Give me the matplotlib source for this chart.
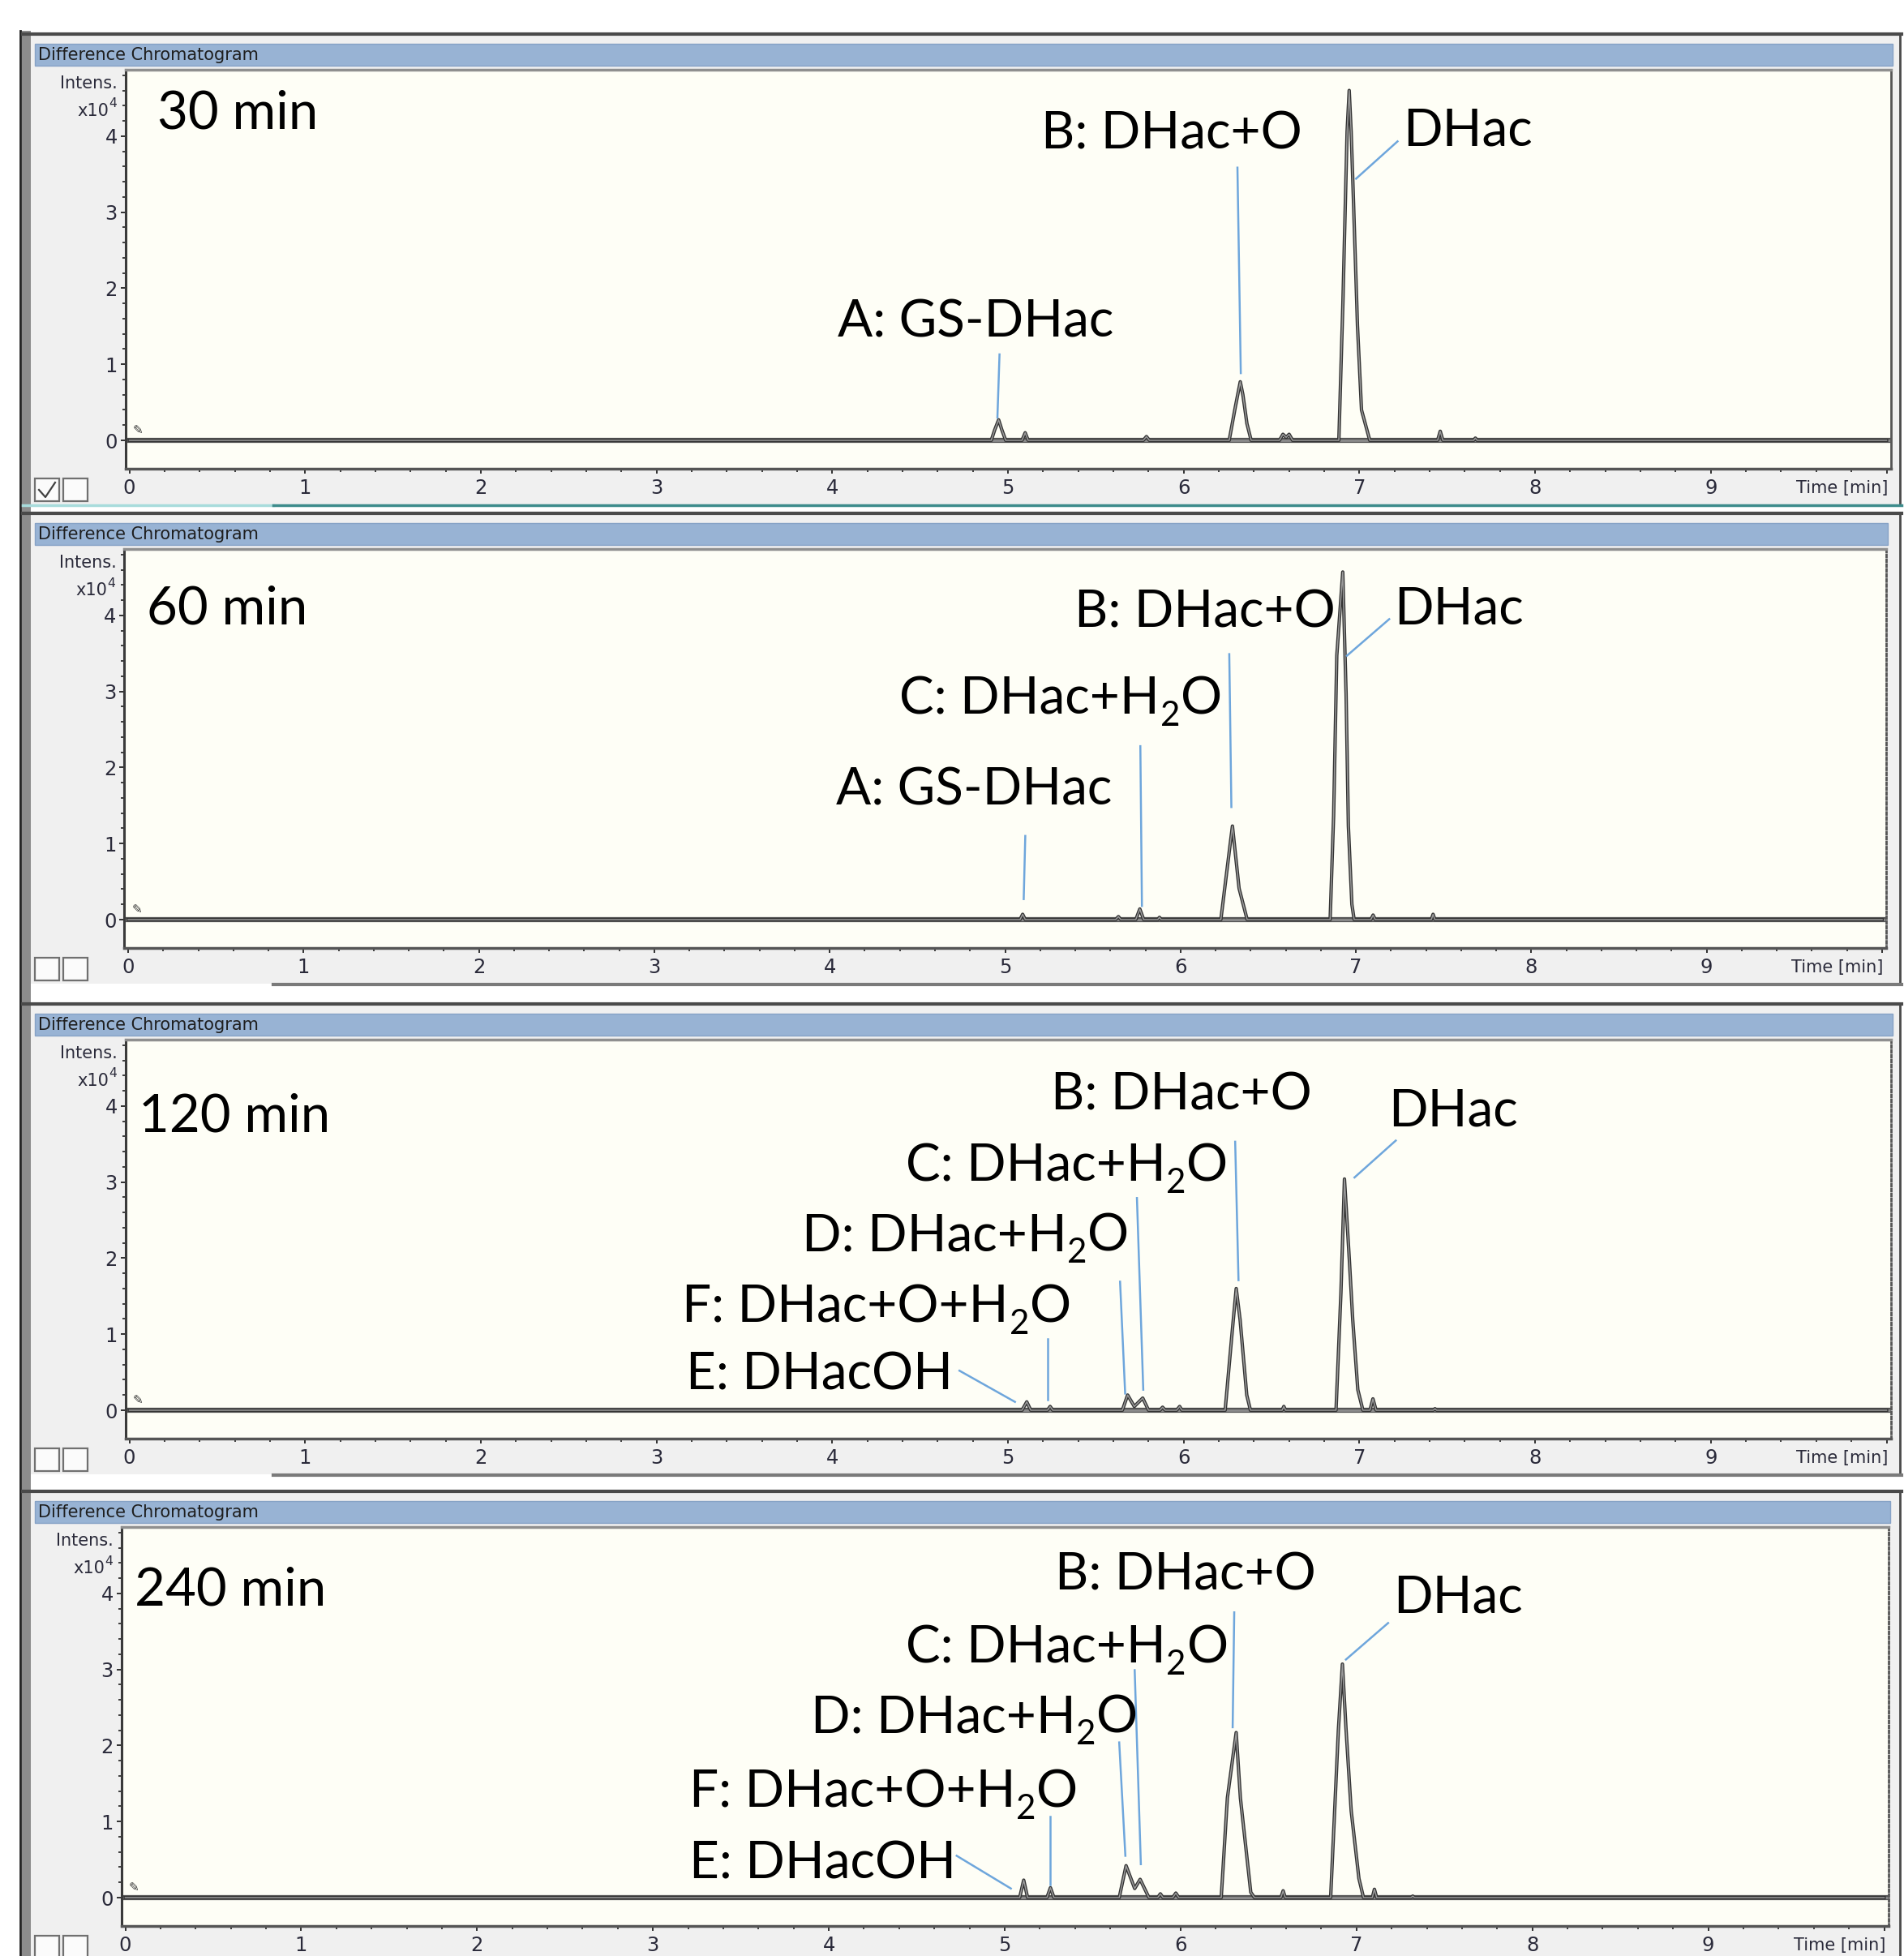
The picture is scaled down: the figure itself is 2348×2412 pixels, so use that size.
import matplotlib
matplotlib.use('Agg')
import numpy as np
import matplotlib.pyplot as plt
from matplotlib import font_manager
from matplotlib.patches import Rectangle
from matplotlib.ticker import MultipleLocator, FixedLocator

# ---- Werte (Zeit in min, Intensitaet in 1e4) ----
panel_titles = ['30 min', '60 min', '120 min', '240 min']

t30 = [0.0, 4.905, 4.925, 4.947, 4.965, 4.987, 5.08, 5.098, 5.115, 5.77, 5.788, 5.805,
       6.259, 6.294, 6.322, 6.337, 6.360, 6.384, 6.545, 6.565, 6.583, 6.60, 6.62,
       6.883, 6.906, 6.930, 6.942, 6.953, 6.965, 6.989, 7.012, 7.059,
       7.445, 7.46, 7.475, 7.65, 7.66, 7.67, 10.0]
i30 = [0, 0, 0.14, 0.27, 0.14, 0, 0, 0.10, 0, 0, 0.05, 0,
       0, 0.44, 0.77, 0.60, 0.22, 0, 0, 0.08, 0.04, 0.08, 0,
       0, 1.8, 4.06, 4.60, 4.06, 3.24, 1.51, 0.40, 0,
       0, 0.12, 0, 0, 0.03, 0, 0]

t60 = [0.0, 5.085, 5.10, 5.115, 5.63, 5.646, 5.66, 5.745, 5.768, 5.79, 5.87, 5.88, 5.89,
       6.23, 6.268, 6.296, 6.334, 6.38, 6.853, 6.873, 6.891, 6.925, 6.944, 6.957, 6.977,
       6.99, 7.085, 7.098, 7.11, 7.43, 7.44, 7.45, 10.0]
i60 = [0, 0, 0.07, 0, 0, 0.04, 0, 0, 0.14, 0, 0, 0.03, 0,
       0, 0.71, 1.23, 0.41, 0, 0, 1.37, 3.47, 4.57, 2.97, 1.23, 0.2,
       0, 0, 0.06, 0, 0, 0.07, 0, 0]

t120 = [0.0, 5.08, 5.107, 5.13, 5.225, 5.24, 5.255, 5.651, 5.681, 5.719, 5.767, 5.80,
        5.865, 5.88, 5.895, 5.96, 5.977, 5.99, 6.236, 6.274, 6.299, 6.321, 6.359, 6.38,
        6.56, 6.57, 6.58, 6.867, 6.895, 6.915, 6.943, 6.962, 6.991, 7.02, 7.06, 7.077,
        7.095, 7.42, 7.43, 7.44, 10.0]
i120 = [0, 0, 0.11, 0, 0, 0.05, 0, 0, 0.20, 0.05, 0.16, 0,
        0, 0.04, 0, 0, 0.05, 0, 0, 0.98, 1.60, 1.19, 0.20, 0,
        0, 0.05, 0, 0, 1.55, 3.04, 1.97, 1.19, 0.27, 0, 0, 0.15,
        0, 0, 0.02, 0, 0]

t240 = [0.0, 5.085, 5.108, 5.13, 5.24, 5.26, 5.28, 5.651, 5.690, 5.739, 5.770, 5.82,
        5.87, 5.885, 5.90, 5.955, 5.973, 5.99, 6.231, 6.266, 6.316, 6.34, 6.399, 6.42,
        6.57, 6.583, 6.595, 6.853, 6.897, 6.92, 6.941, 6.97, 7.014, 7.04, 7.09, 7.102,
        7.115, 7.31, 7.32, 7.33, 10.0]
i240 = [0, 0, 0.23, 0, 0, 0.13, 0, 0, 0.42, 0.12, 0.24, 0,
        0, 0.05, 0, 0, 0.06, 0, 0, 1.31, 2.17, 1.31, 0.07, 0,
        0, 0.09, 0, 0, 2.20, 3.07, 2.20, 1.14, 0.25, 0, 0, 0.11,
        0, 0, 0.02, 0, 0]

traces_t = [t30, t60, t120, t240]
traces_i = [i30, i60, i120, i240]

# "_2" steht fuer die tiefgestellte 2
labels30 = ['A: GS-DHac', 'B: DHac+O', 'DHac']
labels60 = ['A: GS-DHac', 'C: DHac+H_2O', 'B: DHac+O', 'DHac']
labels120 = ['B: DHac+O', 'DHac', 'C: DHac+H_2O', 'D: DHac+H_2O',
             'F: DHac+O+H_2O', 'E: DHacOH']
labels240 = labels120
peak_labels = [labels30, labels60, labels120, labels240]

# Textanker (Zeit, Intensitaet) und Zeigerlinien
title_pos = [(0.16, 4.10), (0.105, 3.89), (0.055, 3.66), (0.055, 3.84)]
label_pos = [
    [(4.032, 1.357), (5.187, 3.83), (7.247, 3.87)],
    [(4.037, 1.51), (4.397, 2.70), (5.397, 3.84), (7.217, 3.89)],
    [(5.245, 3.95), (7.167, 3.74), (4.417, 3.01), (3.827, 2.10), (3.147, 1.16), (3.167, 0.27)],
    [(5.287, 4.05), (7.207, 3.75), (4.437, 3.09), (3.897, 2.17), (3.207, 1.19), (3.207, 0.25)],
]
leaders = [
    [((4.952, 1.13), (4.94, 0.30)), ((6.306, 3.585), (6.325, 0.884)),
     ((7.217, 3.93), (6.981, 3.44))],
    [((5.115, 1.10), (5.106, 0.27)), ((5.771, 2.28), (5.78, 0.18)),
     ((6.278, 3.49), (6.29, 1.48)), ((7.19, 3.95), (6.949, 3.47))],
    [((4.724, 0.52), (5.04, 0.11)), ((5.227, 0.94), (5.227, 0.14)),
     ((5.638, 1.69), (5.667, 0.22)), ((5.734, 2.79), (5.77, 0.27)),
     ((6.293, 3.53), (6.312, 1.71)), ((7.207, 3.545), (6.972, 3.06))],
    [((4.727, 0.55), (5.035, 0.12)), ((5.258, 1.07), (5.258, 0.17)),
     ((5.651, 2.04), (5.686, 0.55)), ((5.739, 2.99), (5.774, 0.44)),
     ((6.305, 3.75), (6.296, 2.24)), ((7.18, 3.61), (6.94, 3.13))],
]
xtick_labels = ['0', '1', '2', '3', '4', '5', '6', '7', '8', '9', '']
ytick_labels = ['0', '1', '2', '3', '4']

# ---- Schriften ----
names = {f.name for f in font_manager.fontManager.ttflist}
if 'Liberation Sans Narrow' in names:
    ui_font, ui_size, num_size = 'Liberation Sans Narrow', 20, 20
else:
    ui_font, ui_size, num_size = 'DejaVu Sans', 15, 17.5
big = 46

W, H = 2348, 2412
fig = plt.figure(figsize=(W / 100, H / 100), dpi=100, facecolor='white')

# Hintergrund-Ebene in Pixelkoordinaten fuer die Fensterrahmen
ui = fig.add_axes([0, 0, 1, 1])
ui.set_xlim(0, W)
ui.set_ylim(H, 0)
ui.axis('off')


def px_axes(x0, y0, x1, y1):
    return fig.add_axes([x0 / W, 1 - y1 / H, (x1 - x0) / W, (y1 - y0) / H])


def draw_label(ax, x, y, s):
    kw = dict(family='Lato', ha='left', va='baseline', zorder=5, annotation_clip=False)
    if '_2' not in s:
        ax.text(x, y, s, family='Lato', fontsize=big, ha='left', va='baseline', zorder=5)
        return
    head, tail = s.split('_2')
    t1 = ax.text(x, y, head, family='Lato', fontsize=big, ha='left', va='baseline', zorder=5)
    t2 = ax.annotate('2', xy=(1, y), xycoords=(t1, 'data'), xytext=(0.5, -10.5),
                     textcoords='offset points', fontsize=big * 0.66, **kw)
    ax.annotate(tail, xy=(1, y), xycoords=(t2, 'data'), xytext=(0.5, 0),
                textcoords='offset points', fontsize=big * 1.0, **kw)


# Lage der Zeitachsen im Bild (Pixel fuer t=0, Pixel pro Minute)
plot_tops = [86, 677, 1282, 1883]
axis_x0 = [159.5, 158.0, 159.5, 154.5]
axis_px = [216.7, 216.3, 216.7, 216.9]
plot_h = 492
xmin, xmax = -0.021, 10.025

ui.plot([25, 25], [38, H], color='#202020', lw=2)
ui.add_patch(Rectangle((27, 38), 11, H - 38, fc='#8c8c8c', ec='none'))

for k, T in enumerate(plot_tops):
    left = axis_x0[k] + xmin * axis_px[k]
    right = axis_x0[k] + xmax * axis_px[k]

    # Fensterrahmen
    ui.add_patch(Rectangle((38, T - 46), 2307, 582, fc='#f0f0f0', ec='none'))
    ui.plot([28, 2345], [T - 44, T - 44], color='#4a4a4a', lw=3)
    ui.plot([2343, 2343], [T - 44, T + 536], color='#4a4a4a', lw=2)
    ui.add_patch(Rectangle((43, T - 32), right - 41, 27, fc='#98b3d4', ec='#86a2c6', lw=1))
    ui.text(47, T - 18, 'Difference Chromatogram', family=ui_font, fontsize=ui_size,
            color='#1e1e1e', ha='left', va='center')
    for cx in (43, 78):
        ui.add_patch(Rectangle((cx, T + 504), 30, 28, fc='#fbfbfb', ec='#707070', lw=1.6))
    if k == 0:
        ui.plot([48, 56, 68], [T + 518, T + 527, T + 509], color='#404040', lw=1.6)
        ui.plot([28, 337], [T + 537, T + 537], color='#a8dcdc', lw=2.5)
        ui.plot([337, 2345], [T + 537, T + 537], color='#3d8c8c', lw=2.5)
    else:
        ui.plot([337, 2345], [T + 537, T + 537], color='#7a7a7a', lw=3)
    ui.text(left - 10, T + 17, 'Intens.', family=ui_font, fontsize=ui_size,
            color='#2a2a3a', ha='right', va='center')
    ui.text(left - 21, T + 51, 'x10', family=ui_font, fontsize=ui_size,
            color='#2a2a3a', ha='right', va='center')
    ui.text(left - 21, T + 42, '4', family=ui_font, fontsize=ui_size * 0.75,
            color='#2a2a3a', ha='left', va='center')
    ui.text(right - 4, T + 516, 'Time [min]', family=ui_font, fontsize=ui_size,
            color='#2a2a3a', ha='right', va='center')

    # Chromatogramm
    ax = px_axes(left, T, right, T + plot_h)
    ax.set_facecolor('#fefef6')
    ax.set_xlim(xmin, xmax)
    ax.set_ylim(-0.373, 4.872)

    ax.axhline(0, color='#555555', lw=4.5, zorder=2)
    ax.axhline(0, color='#8c8c8c', lw=2.0, zorder=2)
    ax.plot(traces_t[k], traces_i[k], color='#333333', lw=3.0, zorder=3)
    ax.plot(traces_t[k], traces_i[k], color='#9a9a9a', lw=1.1, zorder=3)
    ax.text(0.02, 0.05, '\u270e', family='DejaVu Sans', fontsize=11, color='#333333',
            ha='left', va='bottom', zorder=4)

    for (p0, p1) in leaders[k]:
        ax.plot([p0[0], p1[0]], [p0[1], p1[1]], color='#6ea6dc', lw=1.8, zorder=4)

    ax.text(title_pos[k][0], title_pos[k][1], panel_titles[k], family='Lato',
            fontsize=big + 1, ha='left', va='baseline', zorder=5)
    for s, (x, y) in zip(peak_labels[k], label_pos[k]):
        draw_label(ax, x, y, s)

    ax.set_xticks(range(11), labels=xtick_labels)
    ax.xaxis.set_minor_locator(MultipleLocator(0.2))
    ax.set_yticks(range(5), labels=ytick_labels)
    ax.yaxis.set_minor_locator(FixedLocator(np.arange(0, 4.81, 0.2)))
    ax.tick_params(which='major', direction='out', length=4.3, width=1.4, color='#303030',
                   labelsize=num_size, labelcolor='#2a2a3a', labelfontfamily=ui_font)
    ax.tick_params(which='minor', direction='out', length=3.0, width=1.3, color='#303030')
    ax.tick_params(axis='x', which='major', pad=4.5)
    ax.tick_params(axis='y', which='major', pad=2.9)

    ax.spines['left'].set(color='#3a3a3a', lw=2.2)
    ax.spines['bottom'].set(color='#555555', lw=2.5)
    ax.spines['top'].set(color='#8f8f8f', lw=2.5)
    if k == 0:
        ax.spines['right'].set(color='#555555', lw=2.0)
    else:
        ax.spines['right'].set(color='#555555', lw=2.0, linestyle=(0, (1, 1.2)))

fig.savefig('out.png', dpi=100, facecolor='white')
